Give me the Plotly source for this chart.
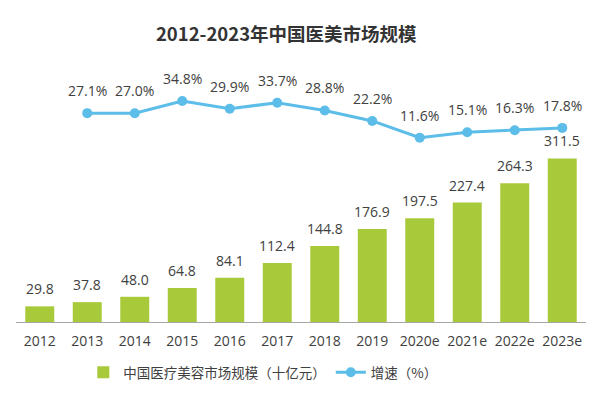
import plotly.graph_objects as go

years = ["2012", "2013", "2014", "2015", "2016", "2017", "2018", "2019",
         "2020e", "2021e", "2022e", "2023e"]
market = [29.8, 37.8, 48.0, 64.8, 84.1, 112.4, 144.8, 176.9, 197.5, 227.4, 264.3, 311.5]
growth = [27.1, 27.0, 34.8, 29.9, 33.7, 28.8, 22.2, 11.6, 15.1, 16.3, 17.8]
growth_years = years[1:]

NUM_FONT = "Open Sans, Noto Sans, sans-serif"
CJK_FONT = "Noto Sans CJK SC, sans-serif"
TXT = "#404040"
GREEN = "#a8c93a"
BLUE = "#5bbde8"

fig = go.Figure()
fig.add_trace(go.Bar(
    x=years, y=market, name="中国医疗美容市场规模（十亿元）",
    marker=dict(color=GREEN, line=dict(width=0)),
    yaxis="y",
))
fig.add_trace(go.Scatter(
    x=growth_years, y=growth, name="增速（%）", mode="lines+markers",
    line=dict(color=BLUE, width=3), marker=dict(color=BLUE, size=10),
    yaxis="y2",
))

ann = []
for x, v in zip(years, market):
    ann.append(dict(x=years.index(x), y=v, xref="x", yref="y", text=f"{v:.1f}",
                    showarrow=False, yanchor="bottom", yshift=6,
                    font=dict(family=NUM_FONT, size=14, color=TXT)))
for x, v in zip(growth_years, growth):
    ann.append(dict(x=years.index(x), y=v, xref="x", yref="y2", text=f"{v:.1f}%",
                    showarrow=False, yanchor="bottom", yshift=11,
                    font=dict(family=NUM_FONT, size=14, color=TXT)))

fig.update_layout(
    width=592, height=388,
    margin=dict(l=8, r=14, t=55, b=67),
    paper_bgcolor="white", plot_bgcolor="white",
    bargap=0.39,
    title=dict(text="<b>2012-2023年中国医美市场规模</b>", x=0.47, xanchor="center",
               y=1 - 27 / 388, yanchor="middle",
               font=dict(family=CJK_FONT, size=18.5, color="#333333")),
    xaxis=dict(type="category", categoryorder="array", categoryarray=years,
               range=[-0.5, len(years) - 0.5], showgrid=False, showline=True,
               linecolor="#a6a6a6", linewidth=1, ticks="", ticklabelstandoff=6,
               tickangle=0,
               tickfont=dict(family=NUM_FONT, size=14, color=TXT)),
    yaxis=dict(range=[0, 493.2], visible=False, showgrid=False),
    yaxis2=dict(range=[-104.5, 58.7], overlaying="y", side="right", visible=False,
                showgrid=False),
    showlegend=True,
    legend=dict(orientation="h", x=0.433, xanchor="center", y=-0.195, yanchor="middle",
                font=dict(family=CJK_FONT, size=13.5, color=TXT), itemwidth=30,
                tracegroupgap=0),
    annotations=ann,
)

fig.write_html("out.html")
